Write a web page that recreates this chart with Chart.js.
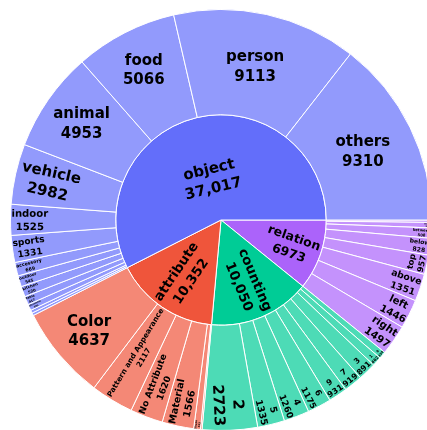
<!DOCTYPE html>
<html>
<head>
<meta charset="utf-8">
<script src="https://cdn.jsdelivr.net/npm/chart.js@4.4.1/dist/chart.umd.min.js"></script>
<style>
  html, body { margin: 0; padding: 0; background: #fff; overflow: hidden; width: 427px; height: 430px; }
  #wrap { position: absolute; left: 10px; top: 9px; width: 422px; height: 422px; }
</style>
</head>
<body>
<div id="wrap"><canvas id="chart" width="422" height="422"></canvas></div>
<script>
// inner ring
const parentLabels = ['object', 'attribute', 'counting', 'relation'];
const parentValues = [37017, 10352, 10050, 6973];

// outer ring, listed counter-clockwise from 3 o'clock like the original
const objectLabels = ['others', 'person', 'food', 'animal', 'vehicle', 'indoor', 'sports', 'accessory', 'outdoor', 'kitchen', 'table', 'electronic', 'appliance', 'misc'];
const objectValues = [9310, 9113, 5066, 4953, 2982, 1525, 1331, 669, 545, 520, 417, 305, 150, 131];

const attributeLabels = ['Color', 'Pattern and Appearance', 'No Attribute', 'Material', 'Shape', 'Size'];
const attributeValues = [4637, 2117, 1620, 1566, 333, 79];

const countingLabels = ['2', '5', '4', '6', '9', '7', '3', '1', '8'];
const countingValues = [2723, 1335, 1260, 1175, 931, 919, 891, 462, 354];

const relationLabels = ['right', 'left', 'above', 'top', 'below', 'between', 'inside', 'on'];
const relationValues = [1497, 1446, 1351, 957, 828, 508, 266, 120];

const parentColors = ['#636efa', '#ef553b', '#00cc96', '#ab63fa'];

const TEXTPAD = 3;
const BASE_FONT = 15;
const FONT_FAMILY = '"DejaVu Sans", Verdana, sans-serif';

function lighten(hex, t) {
  const n = parseInt(hex.slice(1), 16);
  const c = [n >> 16, (n >> 8) & 255, n & 255].map(v => Math.round(v + (255 - v) * t));
  return 'rgb(' + c.join(',') + ')';
}

function valueText(v) {
  return v >= 10000 ? v.toLocaleString('en-US') : String(v);
}

// build rings; Chart.js goes clockwise so the lists are reversed
const groups = [
  [objectLabels, objectValues],
  [attributeLabels, attributeValues],
  [countingLabels, countingValues],
  [relationLabels, relationValues]
];
let childNames = [], childVals = [], childCols = [];
groups.forEach((g, i) => {
  g[0].forEach((name, j) => {
    childNames.push(name);
    childVals.push(g[1][j]);
    childCols.push(lighten(parentColors[i], 0.3));
  });
});
childNames = childNames.reverse();
childVals = childVals.reverse();
childCols = childCols.reverse();
const innerNames = parentLabels.slice().reverse();
const innerVals = parentValues.slice().reverse();
const innerCols = parentColors.slice().reverse();

function calcMaxHalfSize(a, half, r, ring) {
  const q = a + 1 / (2 * Math.tan(half));
  return r * Math.min(1 / (Math.sqrt(q * q + 0.5) + q), ring / (Math.sqrt(a * a + ring / 2) + a));
}

function calcRotate(phi) {
  const deg = phi * 180 / Math.PI + 90;
  return (((deg + 720) % 180) - 90) * Math.PI / 180;
}

// same choice of orientation as an "auto" sunburst label
function labelTransform(w, h, rOut, rIn, span, mid) {
  const ring = 1 - rIn / rOut;
  const twoPi = 2 * Math.PI;
  const d = (((span + Math.PI) % twoPi) + twoPi) % twoPi - Math.PI;
  const half = 0.5 * Math.min(d || Math.PI, Math.PI);
  const rIns = Math.max(0, Math.min(1 / (1 + 1 / Math.sin(half)), ring / 2));
  const hz = { scale: rIns * rOut * 2 / Math.hypot(w, h), rCenter: 1 - rIns, rotate: 0 };
  if (hz.scale >= 1) return hz;
  const list = [hz];
  const r = Math.max(0, rOut - 2 * TEXTPAD);
  let a = w / h;
  let s = calcMaxHalfSize(a, half, r, ring);
  list.push({ scale: s * 2 / h, rCenter: Math.cos(s / r) - a * s / r, rotate: calcRotate(mid) });
  a = h / w;
  s = calcMaxHalfSize(a, half, r, ring);
  list.push({ scale: s * 2 / w, rCenter: Math.cos(s / r) - a * s / r, rotate: calcRotate(mid + Math.PI / 2) });
  let best = list[0];
  list.forEach(t => { if (t.scale > best.scale) best = t; });
  return best;
}

const sliceLabels = {
  id: 'sliceLabels',
  afterDatasetsDraw(chart) {
    const ctx = chart.ctx;
    const names = [childNames, innerNames];
    const vals = [childVals, innerVals];
    ctx.save();
    ctx.font = 'bold ' + BASE_FONT + 'px ' + FONT_FAMILY;
    ctx.fillStyle = '#000';
    ctx.textAlign = 'center';
    ctx.textBaseline = 'alphabetic';
    [0, 1].forEach(di => {
      chart.getDatasetMeta(di).data.forEach((arc, i) => {
        const p = arc.getProps(['x', 'y', 'startAngle', 'endAngle', 'innerRadius', 'outerRadius'], true);
        const l1 = names[di][i];
        const l2 = valueText(vals[di][i]);
        const w = Math.max(ctx.measureText(l1).width, ctx.measureText(l2).width);
        const h = BASE_FONT * 2.464;
        const span = p.endAngle - p.startAngle;
        const mid = (p.startAngle + p.endAngle) / 2;
        const t = labelTransform(w, h, p.outerRadius, p.innerRadius, span, mid);
        const sc = Math.min(1, t.scale);
        if (sc * BASE_FONT < 1.5) return;
        const rc = t.rCenter * p.outerRadius;
        ctx.save();
        ctx.translate(p.x + rc * Math.cos(mid), p.y + rc * Math.sin(mid));
        ctx.rotate(t.rotate);
        ctx.scale(sc, sc);
        ctx.fillText(l1, 0, -0.304 * BASE_FONT);
        ctx.fillText(l2, 0, 0.996 * BASE_FONT);
        ctx.restore();
      });
    });
    ctx.restore();
  }
};

new Chart(document.getElementById('chart'), {
  type: 'doughnut',
  data: {
    labels: childNames,
    datasets: [
      { data: childVals, backgroundColor: childCols, borderColor: '#ffffff', borderWidth: 1 },
      { data: innerVals, backgroundColor: innerCols, borderColor: '#ffffff', borderWidth: 1 }
    ]
  },
  options: {
    responsive: false,
    animation: false,
    rotation: 90,
    cutout: 0,
    layout: { padding: 0 },
    plugins: { legend: { display: false }, tooltip: { enabled: false } }
  },
  plugins: [sliceLabels]
});
</script>
</body>
</html>
